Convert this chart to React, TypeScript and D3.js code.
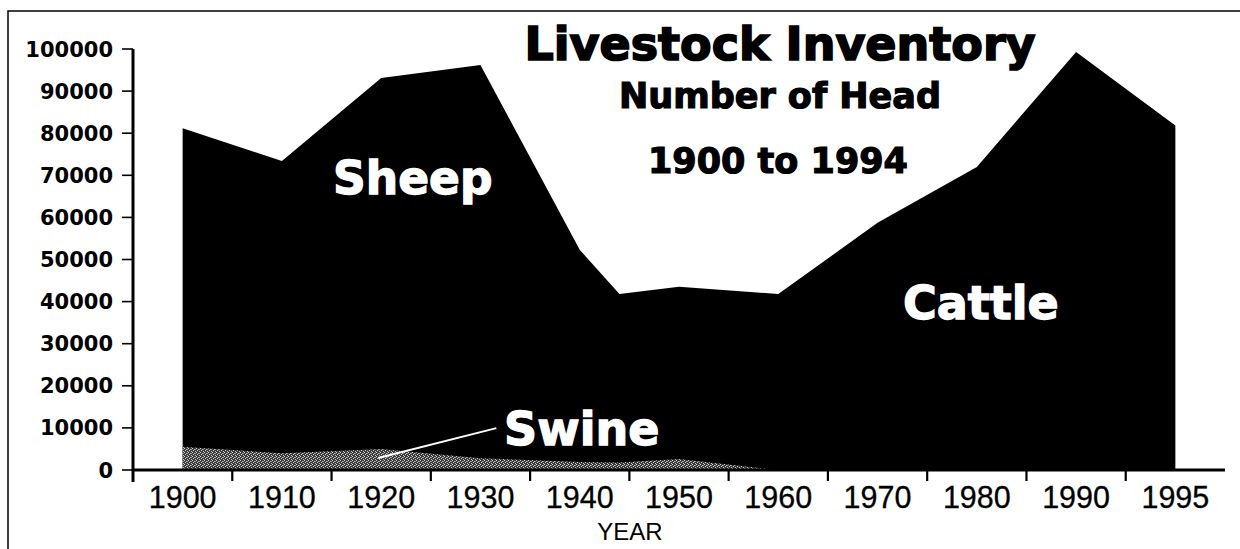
import React from "react";
import * as d3 from "d3";

// ---- data ----
const categories = ["1900", "1910", "1920", "1930", "1940", "1950", "1960", "1970", "1980", "1990", "1995"];
const totalYears = [1900, 1910, 1920, 1930, 1940, 1944, 1950, 1960, 1970, 1980, 1990, 1995];
const totalHead = [81200, 73400, 93100, 96200, 52300, 41800, 43500, 41800, 58700, 72000, 99300, 81800];
const swineYears = [1900, 1910, 1920, 1930, 1940, 1944, 1950, 1960];
const swineHead = [5500, 4000, 5000, 2800, 1900, 1800, 2600, 0];
const yTicks = [0, 10000, 20000, 30000, 40000, 50000, 60000, 70000, 80000, 90000, 100000];

const W = 1240;
const H = 549;
const left = 133;
const right = 1225;
const top = 49;
const bottom = 470;

export default function App() {
  const band = d3.scaleBand<string>().domain(categories).range([left, right]).padding(0);
  const bw = band.bandwidth();
  const center = (c: string) => (band(c) as number) + bw / 2;
  const x = d3
    .scaleLinear()
    .domain([1900, 1990, 1995])
    .range([center("1900"), center("1990"), center("1995")]);
  const y = d3.scaleLinear().domain([0, 100000]).range([bottom, top]);

  const totalData = totalYears.map((yr, i) => ({ yr, v: totalHead[i] }));
  const swineData = swineYears.map((yr, i) => ({ yr, v: swineHead[i] }));

  const area = d3
    .area<{ yr: number; v: number }>()
    .x((d) => x(d.yr))
    .y0(y(0))
    .y1((d) => y(d.v));

  const boldFont = "'DejaVu Sans', sans-serif";
  const plainFont = "'Liberation Sans', Arial, sans-serif";

  // annotation pointer for Swine, in data space
  const ptrFrom = { yr: 1919.7, v: 2850 };
  const ptrTo = { yr: 1931.6, v: 9950 };

  return (
    <svg
      width={W}
      height={H}
      style={{ position: "absolute", left: 0, top: 0, background: "#fff" }}
    >
      <defs>
        <pattern id="stipple" width="4" height="4" patternUnits="userSpaceOnUse">
          <rect width="4" height="4" fill="#3c3c3c" />
          <rect x="0" y="0" width="1" height="1" fill="#d8d8d8" />
          <rect x="2" y="1" width="1" height="1" fill="#bbbbbb" />
          <rect x="1" y="2" width="1" height="1" fill="#d0d0d0" />
          <rect x="3" y="3" width="1" height="1" fill="#c4c4c4" />
          <rect x="3" y="1" width="1" height="1" fill="#888" />
        </pattern>
      </defs>

      {/* outer frame */}
      <rect x={8} y={11} width={1260} height={580} fill="none" stroke="#000" strokeWidth={1.5} />

      {/* areas */}
      <path d={area(totalData) as string} fill="#000" />
      <path d={area(swineData) as string} fill="url(#stipple)" />

      {/* Swine pointer */}
      <line
        x1={x(ptrFrom.yr)}
        y1={y(ptrFrom.v)}
        x2={x(ptrTo.yr)}
        y2={y(ptrTo.v)}
        stroke="#fff"
        strokeWidth={2}
      />

      {/* y axis */}
      <line x1={left} x2={left} y1={top} y2={bottom + 12} stroke="#000" strokeWidth={3} />
      {yTicks.map((t) => (
        <g key={t}>
          <line x1={left - 11} x2={left} y1={y(t)} y2={y(t)} stroke="#000" strokeWidth={1.6} />
          <text
            x={113}
            y={y(t)}
            dy="0.36em"
            textAnchor="end"
            fontFamily={boldFont}
            fontWeight="bold"
            fontSize={21}
            fill="#000"
          >
            {t}
          </text>
        </g>
      ))}

      {/* x axis */}
      <line x1={left} x2={right} y1={bottom} y2={bottom} stroke="#000" strokeWidth={3} />
      {categories.slice(1).map((c) => (
        <line
          key={"t" + c}
          x1={band(c) as number}
          x2={band(c) as number}
          y1={bottom}
          y2={bottom + 11}
          stroke="#000"
          strokeWidth={2.2}
        />
      ))}
      {categories.map((c) => (
        <text
          key={"l" + c}
          x={center(c)}
          y={508}
          textAnchor="middle"
          fontFamily={plainFont}
          fontSize={30.5}
          fill="#000"
          stroke="#000"
          strokeWidth={0.3}
        >
          {c}
        </text>
      ))}
      <text x={630} y={540} textAnchor="middle" fontFamily={plainFont} fontSize={24} fill="#000">
        YEAR
      </text>

      {/* titles */}
      <text
        x={780}
        y={60}
        textAnchor="middle"
        fontFamily={boldFont}
        fontWeight="bold"
        fontSize={46}
        fill="#000"
        stroke="#000"
        strokeWidth={1.7}
      >
        Livestock Inventory
      </text>
      <text
        x={780}
        y={108}
        textAnchor="middle"
        fontFamily={boldFont}
        fontWeight="bold"
        fontSize={35}
        fill="#000"
        stroke="#000"
        strokeWidth={1.2}
      >
        Number of Head
      </text>
      <text
        x={778}
        y={173}
        textAnchor="middle"
        fontFamily={boldFont}
        fontWeight="bold"
        fontSize={35}
        fill="#000"
        stroke="#000"
        strokeWidth={1.2}
      >
        1900 to 1994
      </text>

      {/* series labels */}
      <text
        x={333}
        y={194}
        fontFamily={boldFont}
        fontWeight="bold"
        fontSize={45.5}
        fill="#fff"
        stroke="#fff"
        strokeWidth={1.3}
      >
        Sheep
      </text>
      <text
        x={903}
        y={319}
        fontFamily={boldFont}
        fontWeight="bold"
        fontSize={46}
        fill="#fff"
        stroke="#fff"
        strokeWidth={1.3}
      >
        Cattle
      </text>
      <text
        x={504}
        y={445}
        fontFamily={boldFont}
        fontWeight="bold"
        fontSize={46}
        fill="#fff"
        stroke="#fff"
        strokeWidth={1.3}
      >
        Swine
      </text>
    </svg>
  );
}
